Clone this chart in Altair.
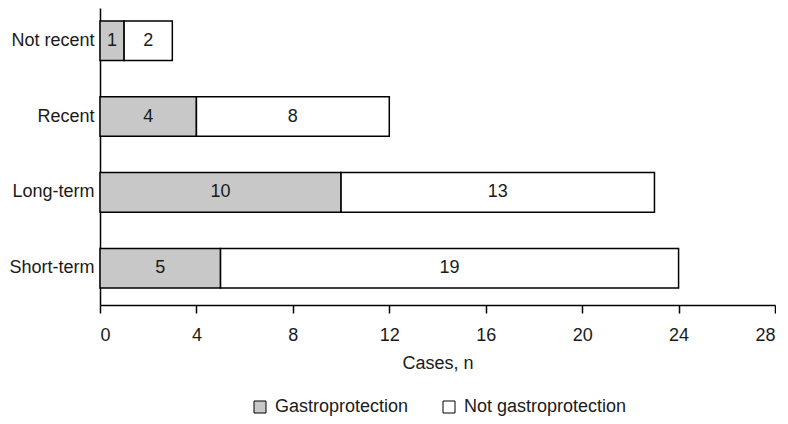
import altair as alt
import pandas as pd

categories = ["Not recent", "Recent", "Long-term", "Short-term"]
gastro = [1, 4, 10, 5]
not_gastro = [2, 8, 13, 19]
series = ["Gastroprotection", "Not gastroprotection"]
x_ticks = [0, 4, 8, 12, 16, 20, 24, 28]

rows = []
for c, g, n in zip(categories, gastro, not_gastro):
    rows.append({"cat": c, "series": series[0], "value": g, "order": 0})
    rows.append({"cat": c, "series": series[1], "value": n, "order": 1})
df = pd.DataFrame(rows)

FONT = "Liberation Sans"
TXT = "#1a1a1a"

base = alt.Chart(df).transform_stack(
    stack="value", groupby=["cat"], as_=["x1", "x2"], sort=[alt.SortField("order")]
).transform_calculate(mid="(datum.x1 + datum.x2) / 2")

y_enc = alt.Y(
    "cat:N", sort=categories, title=None,
    scale=alt.Scale(paddingInner=0.478, paddingOuter=0.198, align=0.433),
    axis=alt.Axis(ticks=False, labelPadding=6, domainColor="black", domainWidth=1.5,
                  labelFontSize=18, labelFont=FONT, labelColor=TXT),
)

bars = base.mark_bar(stroke="black", strokeWidth=1.5, cornerRadius=0).encode(
    x=alt.X("x1:Q", scale=alt.Scale(domain=[0, 28], nice=False),
            axis=alt.Axis(values=x_ticks, title="Cases, n", grid=False,
                          domainColor="black", domainWidth=1.5, tickColor="black", tickWidth=1.5,
                          tickSize=8, labelPadding=13, labelFontSize=18, labelFont=FONT,
                          labelColor=TXT, titleFontSize=18, titleFont=FONT, titleColor=TXT,
                          titleFontWeight="normal", titlePadding=10)),
    x2="x2:Q",
    y=y_enc,
    fill=alt.Fill("series:N", scale=alt.Scale(domain=series, range=["#c8c8c8", "#ffffff"]),
                  legend=alt.Legend(orient="none", legendX=151, legendY=390,
                                    direction="horizontal", title=None,
                                    symbolType="square", symbolSize=144,
                                    symbolStrokeColor="black", symbolStrokeWidth=1,
                                    labelFontSize=18, labelFont=FONT, labelColor=TXT,
                                    labelLimit=400, columnPadding=31, labelOffset=6)),
)

text = base.mark_text(fontSize=18, font=FONT, color=TXT).encode(
    x="mid:Q",
    y=alt.Y("cat:N", sort=categories),
    text="value:Q",
)

chart = (bars + text).properties(
    width=675, height=297,
    padding={"left": 0, "top": 0, "right": 0, "bottom": 0},
).configure_view(stroke=None)

chart.save("out.html", embed_options={"renderer": "svg", "actions": False})
